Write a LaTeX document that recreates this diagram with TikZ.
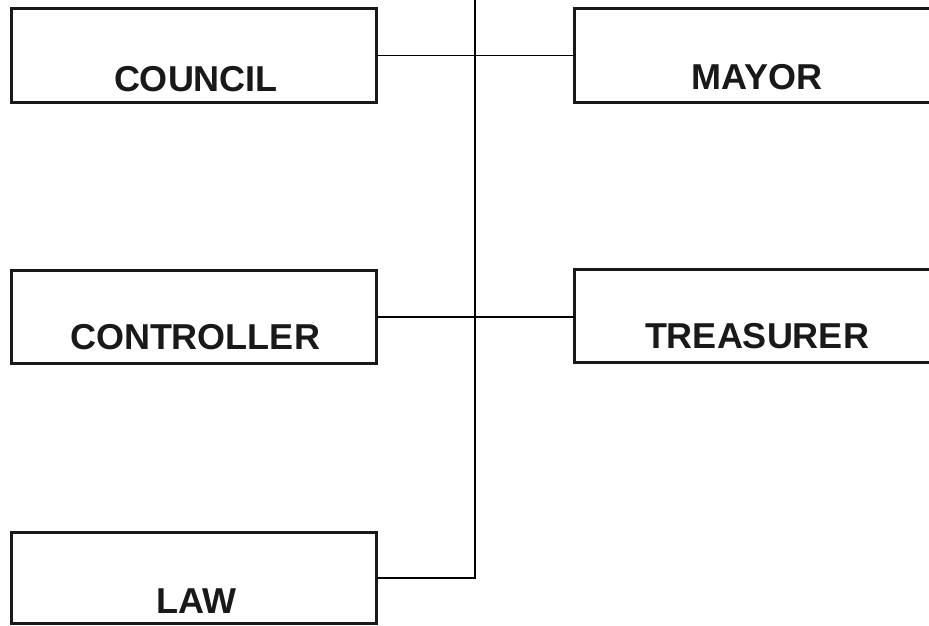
\documentclass[tikz,border=0pt]{standalone}
\usepackage{fontspec}
\setmainfont{Liberation Sans}
\begin{document}
\begin{tikzpicture}[x=1pt,y=-1pt,
  box/.style={draw=black!90, line width=3pt, rectangle, outer sep=0pt, inner sep=0pt,
              minimum width=365pt, minimum height=93pt},
  lbl/.style={anchor=base, inner sep=0pt, text=black!90,
              font=\fontsize{36}{40}\selectfont\bfseries},
  conn/.style={draw=black, line width=1.5pt}]
\useasboundingbox (0,0) rectangle (929,625);
% boxes
\node[box, minimum height=94pt] (council) at (194,55.5) {};
\node[box, minimum height=94pt] (mayor) at (757,55.5) {};
\node[box] (controller) at (194,317) {};
\node[box] (treasurer) at (757,316) {};
\node[box, minimum height=91pt] (law) at (194,578) {};
% labels
\node[lbl] (councilT) at (196,91) {COUNCIL};
\node[lbl] (mayorT) at (757,89) {MAYOR};
\node[lbl] (controllerT) at (195,349) {CONTROLLER};
\node[lbl] (treasurerT) at (757,348) {TREASURER};
\node[lbl] (lawT) at (196,613) {LAW};
% connectors
\coordinate (top) at (475,0);
\draw[conn] (council.east) -- (mayor.west);
\draw[conn] (controller.east) -- (treasurer.west |- controller.east);
\draw[conn] (top) -- (top |- law.east) -- (law.east);
\end{tikzpicture}
\end{document}
